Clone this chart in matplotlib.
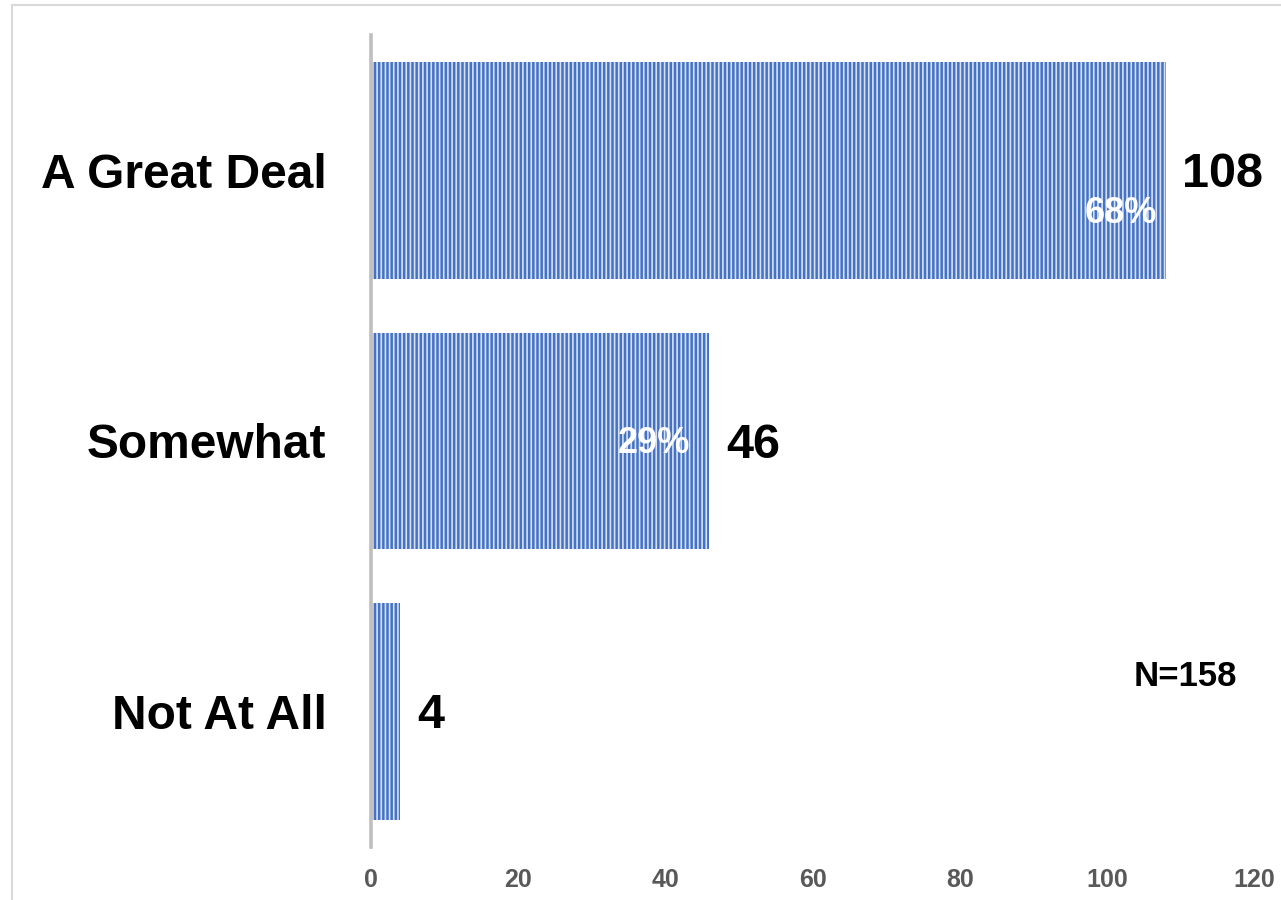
import matplotlib
matplotlib.use("Agg")
import matplotlib.pyplot as plt
from matplotlib.patches import Rectangle

categories = ["A Great Deal", "Somewhat", "Not At All"]
counts = [108, 46, 4]
percents = ["68%", "29%", ""]
xticks = [0, 20, 40, 60, 80, 100, 120]
note = "N=158"

plt.rcParams['font.family'] = ['Liberation Sans', 'DejaVu Sans']
plt.rcParams['hatch.linewidth'] = 1.2

W, H = 1281, 900
fig = plt.figure(figsize=(W / 100, H / 100), dpi=100)
fig.patch.set_facecolor('white')

# figure border
fig.add_artist(Rectangle((12 / W, -0.01), 1.2, 1 - 5 / H + 0.01, transform=fig.transFigure,
                         fill=False, edgecolor='#D9D9D9', linewidth=1.5))

left, right, top, bottom = 371, 1254, 35, 847
ax = fig.add_axes([left / W, 1 - bottom / H, (right - left) / W, (bottom - top) / H])

ypos = list(range(len(categories)))
ax.barh(ypos, counts, height=0.8, color='#4472C4', edgecolor='#D6E0F4',
        linewidth=0, hatch='||||')
ax.set_xlim(0, 120)
ax.set_ylim(len(categories) - 0.5, -0.5)

for s in ['top', 'right', 'bottom']:
    ax.spines[s].set_visible(False)
ax.spines['left'].set_color('#BFBFBF')
ax.spines['left'].set_linewidth(2.6)
ax.spines['left'].set_zorder(5)

ax.set_xticks(xticks)
ax.set_xticklabels([str(t) for t in xticks], fontsize=18, fontweight='bold', color='#595959')
ax.set_yticks(ypos)
ax.set_yticklabels(categories, fontsize=34.5, fontweight='bold', color='black')
ax.tick_params(axis='x', length=0, pad=15)
ax.tick_params(axis='y', length=0, pad=32)

pct_dy = [0.16, 0.01, 0]
pct_dx = [-6, -14, 0]
for i, (c, p) in enumerate(zip(counts, percents)):
    ax.annotate(str(c), (c, i), xytext=(12, -3), textcoords='offset points',
                ha='left', va='center', fontsize=35, fontweight='bold', color='black')
    if p:
        ax.annotate(p, (c, i + pct_dy[i]), xytext=(pct_dx[i], 0), textcoords='offset points',
                    ha='right', va='center', fontsize=26, fontweight='bold', color='white')

ax.text(1185 / W, 1 - 676 / H, note, transform=fig.transFigure, ha='center', va='center',
        fontsize=25, fontweight='bold', color='black')

fig.savefig('out.png', dpi=100)
